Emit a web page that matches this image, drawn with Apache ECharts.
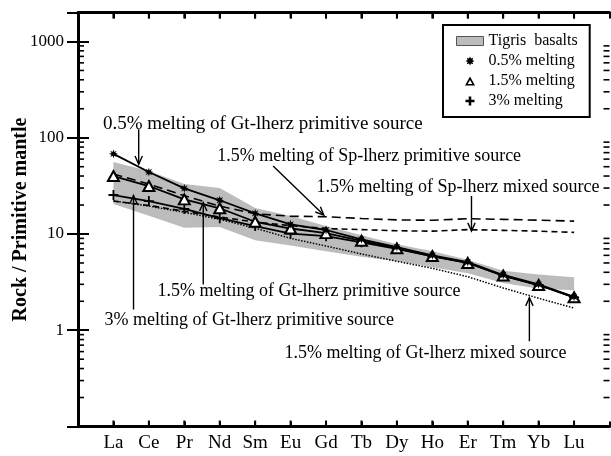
<!DOCTYPE html>
<html>
<head>
<meta charset="utf-8">
<script src="https://cdn.jsdelivr.net/npm/echarts@6/dist/echarts.min.js"></script>
<style>
  html, body { margin: 0; padding: 0; background: #fff; }
  #chart { width: 611px; height: 456px; }
</style>
</head>
<body>
<div id="chart"></div>
<script>
// Rare earth elements, in plotting order
const categories = ['La', 'Ce', 'Pr', 'Nd', 'Sm', 'Eu', 'Gd', 'Tb', 'Dy', 'Ho', 'Er', 'Tm', 'Yb', 'Lu'];
const yTickLabels = [1, 10, 100, 1000];

// Tigris basalts envelope (rock / primitive mantle)
const tigrisUpper = [56, 45, 33, 30, 18.6, 15.4, 12.1, 9.7, 7.8, 6.6, 5.4, 4.15, 3.8, 3.55];
const tigrisLower = [20.5, 15.5, 11.6, 11.8, 8.6, 7.6, 6.6, 5.8, 5.2, 4.5, 3.9, 3.1, 2.7, 2.6];

// Melting models of a garnet lherzolite primitive source
const melt05 = [68, 44, 29.8, 22.4, 16.4, 12.6, 11.0, 8.8, 7.3, 6.0, 5.1, 3.75, 3.0, 2.22];
const melt15 = [40, 31.5, 22.9, 18.5, 13.4, 11.4, 10.2, 8.5, 7.1, 5.9, 5.0, 3.7, 2.95, 2.2];
const melt3 = [25.4, 22.0, 18.2, 14.6, 12.1, 10.1, 9.5, 8.2, 7.0, 5.85, 5.0, 3.68, 2.95, 2.2];

// Other 1.5% melting models
const spPrimitive15 = [42, 33, 25, 19.5, 16.2, 15.3, 15.1, 14.5, 14.0, 13.9, 14.4, 14.2, 13.9, 13.6];
const spMixed15 = [22, 19.8, 17.2, 15.0, 13.3, 12.2, 11.4, 11.1, 10.8, 10.7, 11.1, 10.9, 10.7, 10.4];
const gtMixed15 = [22, 19.5, 16.8, 14.2, 11.5, 9.0, 7.5, 6.2, 5.2, 4.4, 3.6, 2.75, 2.15, 1.7];

// Callout texts and their anchors in data space (element index, value)
const noteTexts = [
  '0.5% melting of Gt-lherz primitive source',
  '1.5% melting of Sp-lherz primitive source',
  '1.5% melting of Sp-lherz mixed source',
  '1.5% melting of Gt-lherz primitive source',
  '3% melting of Gt-lherz primitive source',
  '1.5% melting of Gt-lherz mixed source'
];
const noteAnchors = [[0.704, 138.2], [3.928, 64.7], [6.731, 30.3], [2.246, 2.545], [0.749, 1.262], [13.785, 0.58]];
const noteAlign = ['left', 'left', 'left', 'left', 'left', 'right'];
const noteSize = [19, 18, 18, 18, 18, 18];

// Callout arrows: tail and head in data space
const arrowFrom = [[1.713, 122.5], [5.506, 50.9], [11.105, 24.8], [3.535, 2.99], [1.567, 1.642], [12.739, 0.768]];
const arrowTo = [[1.713, 53.0], [6.936, 15.73], [11.105, 10.72], [3.535, 21.1], [1.567, 25.1], [12.739, 2.18]];

// Minor log ticks (2..9 in each decade)
const minorTicks = [];
for (let k = -1; k <= 3; k++) {
  for (let m = 2; m <= 9; m++) {
    const v = m * Math.pow(10, k);
    if (v < 2000) minorTicks.push(v);
  }
}

const FONT = '"Liberation Serif", "Times New Roman", serif';

// Marker shapes
function starPath(inner) {
  const pts = [];
  for (let k = 0; k < 16; k++) {
    const a = (k * 22.5 - 90) * Math.PI / 180;
    const r = k % 2 === 0 ? 5 : inner;
    pts.push((5 + r * Math.cos(a)).toFixed(3) + ',' + (5 + r * Math.sin(a)).toFixed(3));
  }
  return 'path://M' + pts.join(' L') + ' Z';
}
const STAR = starPath(2.3);
const STAR_BOLD = starPath(2.9);
const PLUS = 'path://M4.1,0 H5.9 V4.1 H10 V5.9 H5.9 V10 H4.1 V5.9 H0 V4.1 H4.1 Z';
const PLUS_BOLD = 'path://M3.6,0 H6.4 V3.6 H10 V6.4 H6.4 V10 H3.6 V6.4 H0 V3.6 H3.6 Z';
const TRI_HOLLOW = 'path://M5,0 L10,9 L0,9 Z M5,3.5 L2.7,7.4 L7.3,7.4 Z';

const chart = echarts.init(document.getElementById('chart'), null, { renderer: 'canvas' });

const toPoints = arr => arr.map((v, i) => [i + 1, v]);

const option = {
  animation: false,
  backgroundColor: '#fff',
  grid: { left: 78, right: 1.5, top: 12.5, bottom: 29.5, containLabel: false, outerBoundsMode: 'none' },
  xAxis: [
    {
      type: 'value', min: 0, max: 15, interval: 1,
      axisLine: { lineStyle: { color: '#000', width: 3 } },
      axisTick: { inside: true, length: 5, lineStyle: { color: '#000', width: 2 } },
      splitLine: { show: false },
      axisLabel: {
        color: '#000', fontFamily: FONT, fontSize: 19, margin: 7,
        formatter: v => (v >= 1 && v <= categories.length) ? categories[v - 1] : ''
      }
    },
    {
      type: 'value', position: 'top', min: 0, max: 15, interval: 1,
      axisLine: { lineStyle: { color: '#000', width: 3 } },
      axisTick: { show: true, inside: true, length: 6, lineStyle: { color: '#000', width: 2 } },
      splitLine: { show: false },
      axisLabel: { show: false }
    }
  ],
  yAxis: [
    {
      type: 'log', min: 0.1, max: 2000, logBase: 10,
      name: 'Rock / Primitive mantle',
      nameLocation: 'middle', nameGap: 47, nameMoveOverlap: false,
      nameTextStyle: { color: '#000', fontFamily: FONT, fontSize: 20, fontWeight: 'bold' },
      axisLine: { lineStyle: { color: '#000', width: 3 } },
      axisTick: { inside: true, length: 11, lineStyle: { color: '#000', width: 2 } },
      splitLine: { show: false },
      axisLabel: {
        color: '#000', fontFamily: FONT, fontSize: 17, margin: 14,
        formatter: v => {
          const hit = yTickLabels.find(t => Math.abs(t - v) < 1e-6 * t);
          return hit ? String(hit) : '';
        }
      }
    },
    {
      type: 'log', min: 0.1, max: 2000, logBase: 10, position: 'right',
      axisLine: { lineStyle: { color: '#000', width: 3 } },
      axisTick: { inside: true, length: 11, lineStyle: { color: '#000', width: 2 } },
      splitLine: { show: false },
      axisLabel: { show: false }
    }
  ],
  legend: {
    orient: 'vertical', left: 443, top: 25,
    padding: [8, 12, 8, 13], itemGap: 4, itemWidth: 27, itemHeight: 9,
    borderColor: '#000', borderWidth: 2, backgroundColor: '#fff',
    symbolKeepAspect: true,
    textStyle: { color: '#000', fontFamily: FONT, fontSize: 16 },
    selectedMode: false,
    data: [
      { name: 'Tigris  basalts', icon: 'rect', itemStyle: { color: '#bcbcbc', borderColor: '#555', borderWidth: 1 } },
      { name: '0.5% melting', icon: STAR_BOLD, itemStyle: { color: '#000', borderWidth: 0 } },
      { name: '1.5% melting', icon: TRI_HOLLOW, itemStyle: { color: '#000', borderWidth: 0 } },
      { name: '3% melting', icon: PLUS_BOLD, itemStyle: { color: '#000', borderWidth: 0 } }
    ]
  },
  series: [
    {
      name: 'Tigris  basalts', type: 'custom', silent: true, z: 1,
      itemStyle: { color: '#bcbcbc' },
      data: [[1, 1]],
      renderItem: (params, api) => {
        const top = tigrisUpper.map((v, i) => api.coord([i + 1, v]));
        const bottom = tigrisLower.map((v, i) => api.coord([i + 1, v])).reverse();
        return { type: 'polygon', shape: { points: top.concat(bottom) }, style: { fill: '#bcbcbc', stroke: null } };
      }
    },
    {
      name: 'minor ticks', type: 'custom', silent: true, z: 5,
      data: minorTicks.map(v => [0, v]),
      renderItem: (params, api) => {
        const v = minorTicks[params.dataIndex];
        const l = api.coord([0, v]);
        const r = api.coord([15, v]);
        return {
          type: 'group', children: [
            { type: 'line', shape: { x1: l[0], y1: l[1], x2: l[0] + 6, y2: l[1] }, style: { stroke: '#000', lineWidth: 1.6 } },
            { type: 'line', shape: { x1: r[0], y1: r[1], x2: r[0] - 6, y2: r[1] }, style: { stroke: '#000', lineWidth: 1.6 } }
          ]
        };
      }
    },
    {
      name: 'element ticks', type: 'custom', silent: true, z: 5,
      data: categories.map((c, i) => [i + 1, 1]),
      renderItem: (params, api) => {
        const x = params.dataIndex + 1;
        const b = api.coord([x, 0.1]);
        const t = api.coord([x, 2000]);
        return {
          type: 'group', children: [
            { type: 'line', shape: { x1: b[0], y1: b[1], x2: b[0], y2: b[1] - 6 }, style: { stroke: '#000', lineWidth: 2 } },
            { type: 'line', shape: { x1: t[0], y1: t[1], x2: t[0], y2: t[1] + 6 }, style: { stroke: '#000', lineWidth: 2 } }
          ]
        };
      }
    },
    {
      name: 'Sp primitive', type: 'line', silent: true, z: 3, data: toPoints(spPrimitive15),
      showSymbol: false, lineStyle: { color: '#000', width: 1.6, type: [9, 5] }
    },
    {
      name: 'Sp mixed', type: 'line', silent: true, z: 3, data: toPoints(spMixed15),
      showSymbol: false, lineStyle: { color: '#000', width: 1.6, type: [6, 4] }
    },
    {
      name: 'Gt mixed', type: 'line', silent: true, z: 3, data: toPoints(gtMixed15),
      showSymbol: false, lineStyle: { color: '#000', width: 1.5, type: [1.5, 1.5] }
    },
    {
      name: '3% melting', type: 'line', silent: true, z: 4, data: toPoints(melt3),
      symbol: PLUS, symbolSize: 10, itemStyle: { color: '#000' },
      lineStyle: { color: '#000', width: 1.8 }
    },
    {
      name: '1.5% melting', type: 'line', silent: true, z: 4, data: toPoints(melt15),
      symbol: 'emptyTriangle', symbolSize: [11, 10], itemStyle: { color: '#000', borderWidth: 1.5 },
      lineStyle: { color: '#000', width: 1.8 }
    },
    {
      name: '0.5% melting', type: 'line', silent: true, z: 4, data: toPoints(melt05),
      symbol: STAR, symbolSize: 9, itemStyle: { color: '#000' },
      lineStyle: { color: '#000', width: 1.8 }
    },
    {
      name: 'callout arrows', type: 'custom', silent: true, z: 6,
      data: arrowFrom.map(() => [1, 1]),
      renderItem: (params, api) => {
        const i = params.dataIndex;
        const p1 = api.coord(arrowFrom[i]);
        const p2 = api.coord(arrowTo[i]);
        const ang = Math.atan2(p2[1] - p1[1], p2[0] - p1[0]);
        const L = 9, spread = 0.42;
        const w1 = [p2[0] - L * Math.cos(ang - spread), p2[1] - L * Math.sin(ang - spread)];
        const w2 = [p2[0] - L * Math.cos(ang + spread), p2[1] - L * Math.sin(ang + spread)];
        return {
          type: 'group', children: [
            { type: 'line', shape: { x1: p1[0], y1: p1[1], x2: p2[0], y2: p2[1] }, style: { stroke: '#000', lineWidth: 1.4 } },
            { type: 'polyline', shape: { points: [w1, p2, w2] }, style: { stroke: '#000', lineWidth: 1.4, fill: null } }
          ]
        };
      }
    },
    {
      name: 'callout texts', type: 'custom', silent: true, z: 6,
      data: noteTexts.map(() => [1, 1]),
      renderItem: (params, api) => {
        const i = params.dataIndex;
        const p = api.coord(noteAnchors[i]);
        return {
          type: 'text',
          style: {
            x: p[0], y: p[1], text: noteTexts[i],
            fill: '#000', fontFamily: FONT, fontSize: noteSize[i],
            align: noteAlign[i], verticalAlign: 'middle'
          }
        };
      }
    }
  ]
};

chart.setOption(option);
</script>
</body>
</html>
